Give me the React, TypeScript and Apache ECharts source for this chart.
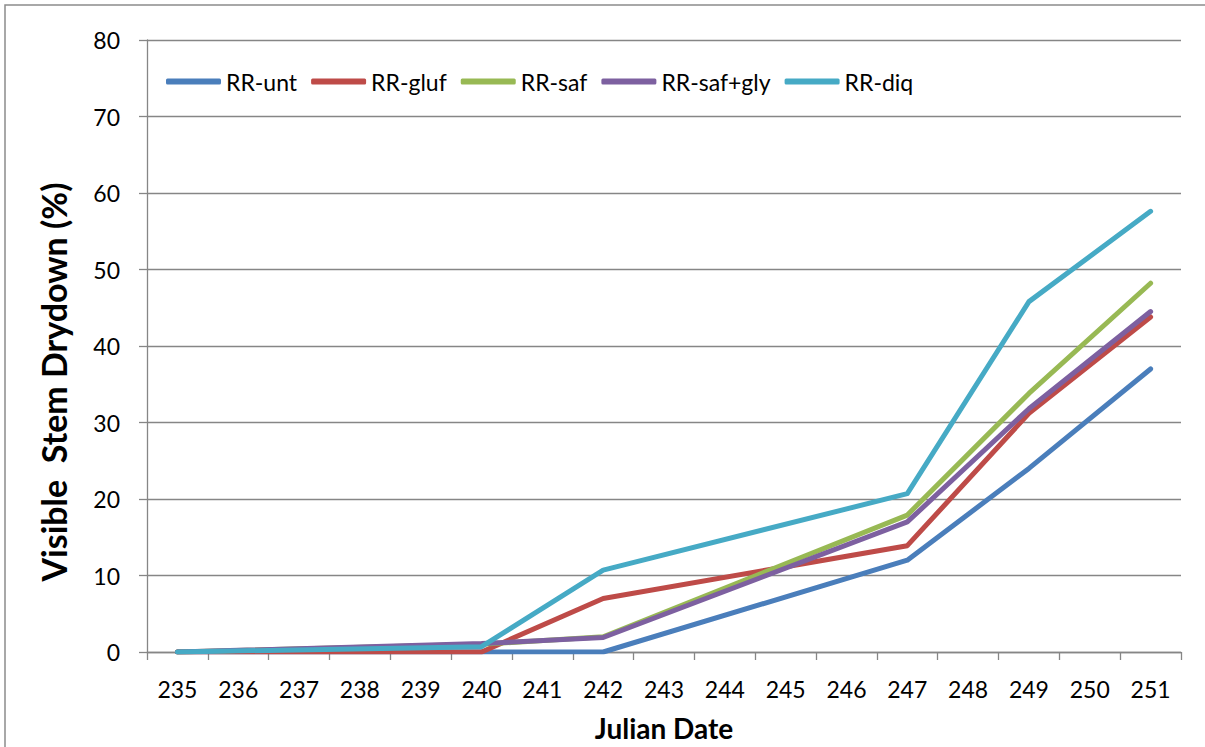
import React, { useEffect, useRef } from "react";
import * as echarts from "echarts";

// Julian dates shown on the x axis
const categories: string[] = Array.from({ length: 17 }, (_, i) => String(235 + i));

// Observation dates
const obsDays: string[] = ["235", "240", "242", "247", "249", "251"];

// Visible stem drydown (%) per treatment
const rrUnt: number[] = [0, 0, 0, 12.0, 24.0, 37.0];
const rrGluf: number[] = [0, 0, 7.0, 13.9, 31.2, 43.8];
const rrSaf: number[] = [0, 1.0, 2.0, 17.9, 33.8, 48.2];
const rrSafGly: number[] = [0, 1.1, 1.9, 17.0, 31.8, 44.5];
const rrDiq: number[] = [0, 0.7, 10.7, 20.7, 45.8, 57.6];

const seriesNames: string[] = ["RR-unt", "RR-gluf", "RR-saf", "RR-saf+gly", "RR-diq"];
const seriesValues: number[][] = [rrUnt, rrGluf, rrSaf, rrSafGly, rrDiq];
const seriesColors: string[] = ["#4A7EBB", "#BE4B48", "#98B954", "#7D60A0", "#46AAC5"];

const yTitle = "Visible  Stem Drydown (%)";

const FONT = "Lato, 'Open Sans', 'Noto Sans', sans-serif";

export default function App() {
  const ref = useRef<HTMLDivElement>(null);

  useEffect(() => {
    document.body.style.margin = "0";
    if (!ref.current) return;
    const chart = echarts.init(ref.current, undefined, { renderer: "svg" });

    const series = seriesNames.map((name, si) => ({
      name,
      type: "line" as const,
      data: obsDays.map((d, i) => [d, seriesValues[si][i]]),
      showSymbol: false,
      symbol: "none",
      lineStyle: { width: 5, color: seriesColors[si], cap: "round", join: "round" },
      itemStyle: { color: seriesColors[si] },
      z: 2 + si,
    }));

    chart.setOption({
      animation: false,
      backgroundColor: "#ffffff",
      textStyle: { fontFamily: FONT },
      graphic: [
        {
          type: "rect",
          shape: { x: 5, y: 5, width: 1220, height: 780 },
          style: { fill: "none", stroke: "#8c8c8c", lineWidth: 1.5 },
          silent: true,
        },
        // Rotated y-axis title, sitting a little below the plot's centre
        {
          type: "text",
          x: 53,
          y: 382,
          rotation: Math.PI / 2,
          silent: true,
          style: {
            text: yTitle,
            fill: "#000",
            font: `bold 34px ${FONT}`,
            align: "center",
            verticalAlign: "middle",
          },
        },
      ],
      legend: {
        left: 161,
        top: 65,
        itemWidth: 55,
        itemHeight: 6,
        itemGap: 14,
        icon: "roundRect",
        data: seriesNames,
        textStyle: { fontFamily: FONT, fontSize: 23, color: "#000" },
      },
      grid: { left: 147, right: 24, top: 40, bottom: 95 },
      xAxis: {
        type: "category",
        data: categories,
        boundaryGap: true,
        name: "Julian Date",
        nameLocation: "middle",
        nameGap: 62,
        nameTextStyle: { fontFamily: FONT, fontSize: 28, fontWeight: "bold", color: "#000" },
        axisLine: { lineStyle: { color: "#868686", width: 1.3 } },
        axisTick: { show: true, length: 8, alignWithLabel: false, lineStyle: { color: "#868686", width: 1.3 } },
        axisLabel: { fontFamily: FONT, fontSize: 23, color: "#000", margin: 25, interval: 0 },
        splitLine: { show: false },
      },
      yAxis: {
        type: "value",
        min: 0,
        max: 80,
        interval: 10,
        axisLine: { show: true, lineStyle: { color: "#868686", width: 1.3 } },
        axisTick: { show: true, length: 8, lineStyle: { color: "#868686", width: 1.3 } },
        axisLabel: { fontFamily: FONT, fontSize: 23, color: "#000", margin: 27 },
        splitLine: { show: true, lineStyle: { color: "#868686", width: 1.3 } },
      },
      series,
    });

    return () => chart.dispose();
  }, []);

  return <div ref={ref} style={{ width: 1205, height: 747 }} />;
}
